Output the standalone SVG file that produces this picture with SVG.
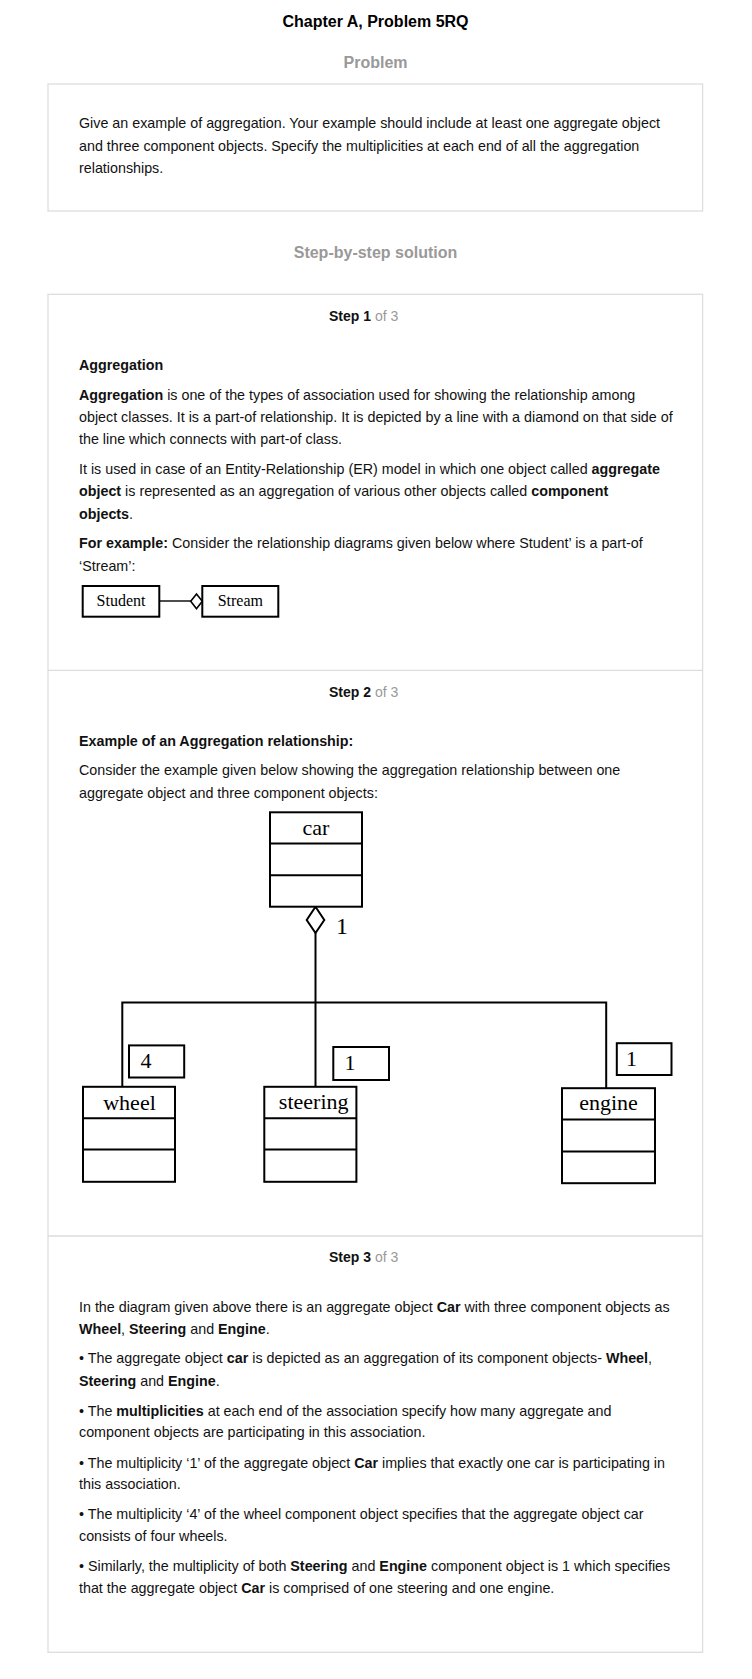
<svg xmlns="http://www.w3.org/2000/svg" width="752" height="1679" viewBox="0 0 752 1679">
<style>
  .t{font-family:"Liberation Sans",Arial,sans-serif;font-size:14.3px;fill:#111}
  .st{font-size:14px}
  .b{font-weight:bold}
  .g{fill:#999}
  .h{font-family:"Liberation Sans",Arial,sans-serif;font-size:16px;font-weight:bold;text-anchor:middle}
  .frame{fill:#fff;stroke:#ddd;stroke-width:1.3}
  .sep{stroke:#ddd;stroke-width:1.3}
  .box{fill:#fff;stroke:#000;stroke-width:2}
  .ln{fill:none;stroke:#000;stroke-width:2}
  .dia{fill:#fff;stroke:#000;stroke-width:2;stroke-linejoin:miter}
  .s{font-family:"Liberation Serif","Times New Roman",serif;fill:#000}
</style>
<rect width="752" height="1679" fill="#fff"/>

<!-- headings -->
<text class="h" x="375.5" y="27" fill="#000">Chapter A, Problem 5RQ</text>
<text class="h" x="375.5" y="68" fill="#999">Problem</text>

<!-- problem box -->
<rect class="frame" x="48" y="84" width="654.6" height="127"/>
<text class="t" x="79" y="127.7">Give an example of aggregation. Your example should include at least one aggregate object</text>
<text class="t" x="79" y="150.5">and three component objects. Specify the multiplicities at each end of all the aggregation</text>
<text class="t" x="79" y="172.5">relationships.</text>

<text class="h" x="375.5" y="258" fill="#999">Step-by-step solution</text>

<!-- solution frame -->
<rect class="frame" x="48" y="294.3" width="654.6" height="1358"/>
<line class="sep" x1="48" y1="670.3" x2="702.6" y2="670.3"/>
<line class="sep" x1="48" y1="1236" x2="702.6" y2="1236"/>

<!-- Step 1 -->
<text class="t st" x="329" y="320.7"><tspan class="b">Step 1</tspan><tspan class="g"> of 3</tspan></text>
<text class="t b" x="79" y="370">Aggregation</text>
<text class="t" x="79" y="400"><tspan class="b">Aggregation</tspan> is one of the types of association used for showing the relationship among</text>
<text class="t" x="79" y="422">object classes. It is a part-of relationship. It is depicted by a line with a diamond on that side of</text>
<text class="t" x="79" y="444.3">the line which connects with part-of class.</text>
<text class="t" x="79" y="474">It is used in case of an Entity-Relationship (ER) model in which one object called <tspan class="b">aggregate</tspan></text>
<text class="t" x="79" y="496.3"><tspan class="b">object</tspan> is represented as an aggregation of various other objects called <tspan class="b">component</tspan></text>
<text class="t" x="79" y="518.7"><tspan class="b">objects</tspan>.</text>
<text class="t" x="79" y="548.3"><tspan class="b">For example:</tspan> Consider the relationship diagrams given below where Student’ is a part-of</text>
<text class="t" x="79" y="570.7">‘Stream’:</text>

<!-- Step 1 diagram -->
<g id="connectors1">
  <line class="ln" x1="159.3" y1="601" x2="190.7" y2="601" style="stroke-width:1.4"/>
  <polygon class="dia" points="190.7,601.3 196.5,594 202.3,601.3 196.5,608.7" style="stroke-width:1.6"/>
</g>
<g id="student">
  <rect class="box" x="82.7" y="586" width="76.6" height="30.7"/>
  <text class="s" x="121" y="605.5" font-size="16" text-anchor="middle">Student</text>
</g>
<g id="stream">
  <rect class="box" x="202.3" y="586" width="76" height="30.7"/>
  <text class="s" x="240.3" y="605.5" font-size="16" text-anchor="middle">Stream</text>
</g>

<!-- Step 2 -->
<text class="t st" x="329" y="696.8"><tspan class="b">Step 2</tspan><tspan class="g"> of 3</tspan></text>
<text class="t b" x="79" y="746">Example of an Aggregation relationship:</text>
<text class="t" x="79" y="774.6">Consider the example given below showing the aggregation relationship between one</text>
<text class="t" x="79" y="797.6">aggregate object and three component objects:</text>

<!-- Step 2 diagram -->
<g id="connectors">
  <line class="ln" x1="315.5" y1="933" x2="315.5" y2="1086.8"/>
  <polyline class="ln" points="122.3,1086.8 122.3,1002.5 606.2,1002.5 606.2,1088.2"/>
  <polygon class="dia" points="315.5,906.7 324.3,920 315.5,933 306.7,920"/>
</g>
<g id="car">
  <rect class="box" x="270" y="812.3" width="92" height="94.4"/>
  <line class="ln" x1="270" y1="843.5" x2="362" y2="843.5"/>
  <line class="ln" x1="270" y1="875.3" x2="362" y2="875.3"/>
  <text class="s" x="316" y="835.4" font-size="22" text-anchor="middle">car</text>
</g>
<g id="mult-car">
  <text class="s" x="336" y="933.5" font-size="24">1</text>
</g>
<g id="wheel">
  <rect class="box" x="83" y="1086.8" width="92" height="95"/>
  <line class="ln" x1="83" y1="1118.2" x2="175" y2="1118.2"/>
  <line class="ln" x1="83" y1="1149.6" x2="175" y2="1149.6"/>
  <text class="s" x="129.5" y="1110" font-size="22" text-anchor="middle">wheel</text>
</g>
<g id="mult-wheel">
  <rect class="box" x="129" y="1045.4" width="55.2" height="32.1"/>
  <text class="s" x="140.5" y="1067.5" font-size="22">4</text>
</g>
<g id="steering">
  <rect class="box" x="264.3" y="1086.8" width="92.1" height="95"/>
  <line class="ln" x1="264.3" y1="1118.2" x2="356.4" y2="1118.2"/>
  <line class="ln" x1="264.3" y1="1149.6" x2="356.4" y2="1149.6"/>
  <text class="s" x="313.7" y="1108.6" font-size="22" text-anchor="middle">steering</text>
</g>
<g id="mult-steering">
  <rect class="box" x="333.3" y="1047" width="55.7" height="33"/>
  <text class="s" x="344.5" y="1070" font-size="22">1</text>
</g>
<g id="engine">
  <rect class="box" x="562" y="1088.2" width="93" height="95"/>
  <line class="ln" x1="562" y1="1119.6" x2="655" y2="1119.6"/>
  <line class="ln" x1="562" y1="1151.4" x2="655" y2="1151.4"/>
  <text class="s" x="608.5" y="1110.4" font-size="22" text-anchor="middle">engine</text>
</g>
<g id="mult-engine">
  <rect class="box" x="616.8" y="1043.2" width="54.7" height="31.8"/>
  <text class="s" x="626" y="1065.7" font-size="22">1</text>
</g>

<!-- Step 3 -->
<text class="t st" x="329" y="1262.3"><tspan class="b">Step 3</tspan><tspan class="g"> of 3</tspan></text>
<text class="t" x="79" y="1311.7">In the diagram given above there is an aggregate object <tspan class="b">Car</tspan> with three component objects as</text>
<text class="t" x="79" y="1334.3"><tspan class="b">Wheel</tspan>, <tspan class="b">Steering</tspan> and <tspan class="b">Engine</tspan>.</text>
<text class="t" x="79" y="1363.3">• The aggregate object <tspan class="b">car</tspan> is depicted as an aggregation of its component objects- <tspan class="b">Wheel</tspan>,</text>
<text class="t" x="79" y="1385.7"><tspan class="b">Steering</tspan> and <tspan class="b">Engine</tspan>.</text>
<text class="t" x="79" y="1415.7">• The <tspan class="b">multiplicities</tspan> at each end of the association specify how many aggregate and</text>
<text class="t" x="79" y="1437.3">component objects are participating in this association.</text>
<text class="t" x="79" y="1467.7">• The multiplicity ‘1’ of the aggregate object <tspan class="b">Car</tspan> implies that exactly one car is participating in</text>
<text class="t" x="79" y="1489.3">this association.</text>
<text class="t" x="79" y="1519">• The multiplicity ‘4’ of the wheel component object specifies that the aggregate object car</text>
<text class="t" x="79" y="1541">consists of four wheels.</text>
<text class="t" x="79" y="1570.7">• Similarly, the multiplicity of both <tspan class="b">Steering</tspan> and <tspan class="b">Engine</tspan> component object is 1 which specifies</text>
<text class="t" x="79" y="1593.3">that the aggregate object <tspan class="b">Car</tspan> is comprised of one steering and one engine.</text>
</svg>
